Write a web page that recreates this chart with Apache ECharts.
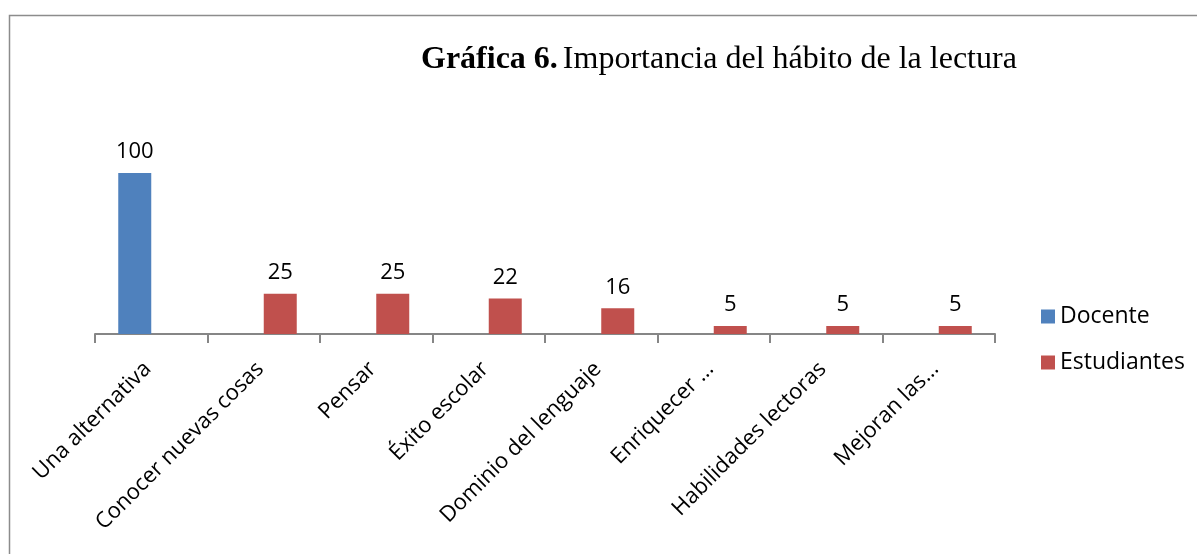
<!DOCTYPE html>
<html>
<head>
<meta charset="utf-8">
<script src="https://cdn.jsdelivr.net/npm/echarts@6/dist/echarts.min.js"></script>
<style>
  html, body { margin: 0; padding: 0; background: #fff; }
  #chart { width: 1197px; height: 554px; }
</style>
</head>
<body>
<div id="chart"></div>
<script>
var categories = ['Una alternativa', 'Conocer nuevas cosas', 'Pensar', 'Éxito escolar',
  'Dominio del lenguaje', 'Enriquecer ...', 'Habilidades lectoras', 'Mejoran las...']
var docente = [100, null, null, null, null, null, null, null]
var estudiantes = [null, 25, 25, 22, 16, 5, 5, 5]

var labelFont = '"Open Sans", Lato, sans-serif'

var chart = echarts.init(document.getElementById('chart'))
chart.setOption({
  animation: false,
  graphic: [{
    type: 'rect',
    shape: { x: 9.5, y: 15.5, width: 1300, height: 700 },
    style: { fill: 'none', stroke: '#8c8c8c', lineWidth: 1.5 }
  }],
  title: {
    left: 416,
    top: 39,
    text: '{b|Gráfica 6.} {n|Importancia del hábito de la lectura}',
    textStyle: {
      fontWeight: 'normal',
      rich: {
        b: { fontFamily: '"Liberation Serif", serif', fontWeight: 'bold', fontSize: 32, color: '#000' },
        n: { fontFamily: '"Liberation Serif", serif', fontWeight: 'normal', fontSize: 32, color: '#000' }
      }
    }
  },
  legend: {
    orient: 'vertical',
    left: 1036,
    top: 300,
    itemWidth: 14,
    itemHeight: 14,
    itemGap: 23,
    icon: 'rect',
    textStyle: { fontFamily: labelFont, fontSize: 23, color: '#000' },
    data: ['Docente', 'Estudiantes']
  },
  grid: { left: 95, right: 202, top: 173, bottom: 220 },
  xAxis: {
    type: 'category',
    data: categories,
    axisLine: { lineStyle: { color: '#868686', width: 2 } },
    axisTick: { show: true, length: 9, lineStyle: { color: '#868686', width: 2 } },
    axisLabel: {
      rotate: 45,
      interval: 0,
      margin: 28,
      padding: [0, 5, 0, 0],
      fontFamily: labelFont,
      fontSize: 22,
      color: '#000'
    }
  },
  yAxis: {
    type: 'value',
    min: 0,
    max: 100,
    show: false
  },
  series: [{
    name: 'Docente',
    type: 'bar',
    data: docente,
    barWidth: 33,
    barGap: '0%',
    itemStyle: { color: '#4f81bd' },
    label: { show: true, position: 'top', distance: 10, fontFamily: labelFont, fontSize: 22, color: '#000' }
  }, {
    name: 'Estudiantes',
    type: 'bar',
    data: estudiantes,
    barWidth: 33,
    barGap: '0%',
    itemStyle: { color: '#c0504d' },
    label: { show: true, position: 'top', distance: 10, fontFamily: labelFont, fontSize: 22, color: '#000' }
  }]
})
</script>
</body>
</html>
